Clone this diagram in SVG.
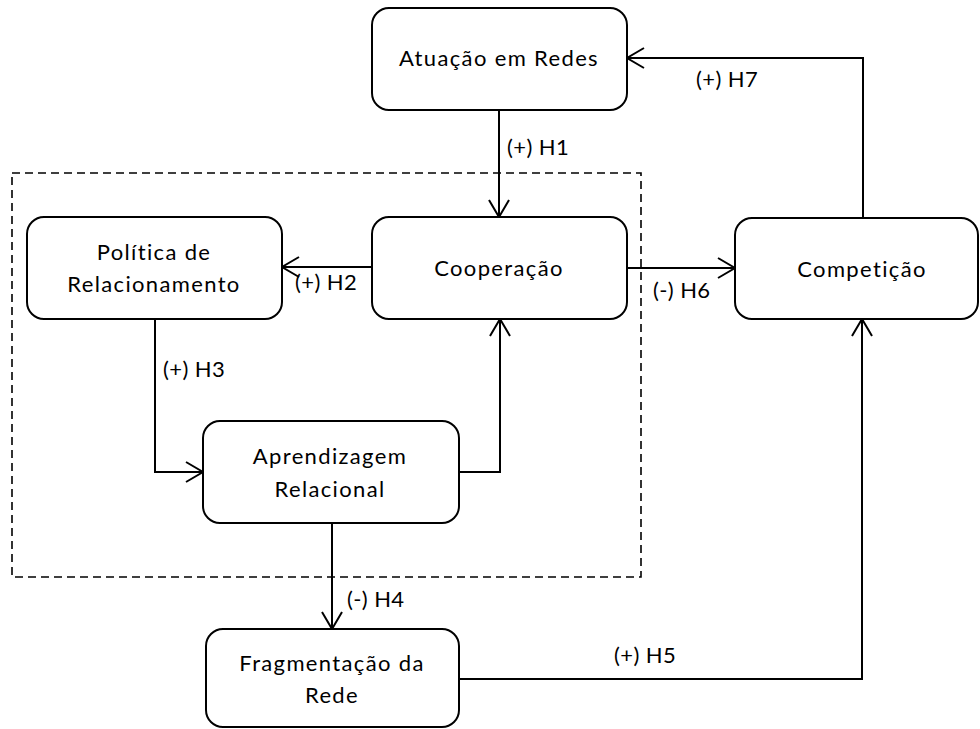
<svg xmlns="http://www.w3.org/2000/svg" width="980" height="729" viewBox="0 0 980 729">
  <style>
    .box { fill: #ffffff; stroke: #000000; stroke-width: 2; }
    .lbl { font-family: Lato, "Liberation Sans", sans-serif; font-size: 22px; fill: #000000; letter-spacing: 0.4px; }
    .mid { text-anchor: middle; letter-spacing: 1.35px; }
    .edge { fill: none; stroke: #000000; stroke-width: 2; }
    .group { fill: none; stroke: #000000; stroke-width: 1.6; stroke-dasharray: 8 5; }
  </style>
  <defs>
    <marker id="arrow" markerUnits="userSpaceOnUse" markerWidth="24" markerHeight="24" viewBox="-20 -12 24 24" refX="0" refY="0" orient="auto">
      <path d="M-17,-10 L0,0 L-17,10" fill="none" stroke="#000000" stroke-width="2"/>
    </marker>
  </defs>

  <rect width="980" height="729" fill="#ffffff"/>

  <!-- dashed boundary around the relational block -->
  <rect class="group" x="12" y="173" width="629" height="404"/>

  <!-- connectors -->
  <g id="connectors">
    <path class="edge" d="M499,110 V217" marker-end="url(#arrow)"/>
    <path class="edge" d="M372,267 H282" marker-end="url(#arrow)"/>
    <path class="edge" d="M155,319 V472 H203" marker-end="url(#arrow)"/>
    <path class="edge" d="M459,472 H500 V319" marker-end="url(#arrow)"/>
    <path class="edge" d="M332,523 V629" marker-end="url(#arrow)"/>
    <path class="edge" d="M459,679 H862 V319" marker-end="url(#arrow)"/>
    <path class="edge" d="M627,268 H735" marker-end="url(#arrow)"/>
    <path class="edge" d="M863,218 V58 H627" marker-end="url(#arrow)"/>

    <text class="lbl" x="507" y="155">(+) H1</text>
    <text class="lbl" x="295" y="290">(+) H2</text>
    <text class="lbl" x="163" y="377">(+) H3</text>
    <text class="lbl" x="347" y="607">(-) H4</text>
    <text class="lbl" x="614" y="663">(+) H5</text>
    <text class="lbl" x="653" y="298">(-) H6</text>
    <text class="lbl" x="696" y="87">(+) H7</text>
  </g>

  <!-- nodes -->
  <g id="atuacao">
    <rect class="box" x="372" y="8" width="255" height="102" rx="17"/>
    <text class="lbl mid" x="499" y="66">Atuação em Redes</text>
  </g>
  <g id="cooperacao">
    <rect class="box" x="372" y="217" width="255" height="102" rx="17"/>
    <text class="lbl mid" x="499" y="276">Cooperação</text>
  </g>
  <g id="politica">
    <rect class="box" x="27" y="217" width="255" height="102" rx="17"/>
    <text class="lbl mid" x="154" y="260">Política de</text>
    <text class="lbl mid" x="154" y="292">Relacionamento</text>
  </g>
  <g id="competicao">
    <rect class="box" x="735" y="218" width="243" height="101" rx="17"/>
    <text class="lbl mid" x="862" y="277">Competição</text>
  </g>
  <g id="aprendizagem">
    <rect class="box" x="203" y="421" width="256" height="102" rx="17"/>
    <text class="lbl mid" x="330" y="464">Aprendizagem</text>
    <text class="lbl mid" x="330" y="497">Relacional</text>
  </g>
  <g id="fragmentacao">
    <rect class="box" x="206" y="629" width="253" height="98" rx="17"/>
    <text class="lbl mid" x="332" y="671">Fragmentação da</text>
    <text class="lbl mid" x="332" y="703">Rede</text>
  </g>
</svg>
